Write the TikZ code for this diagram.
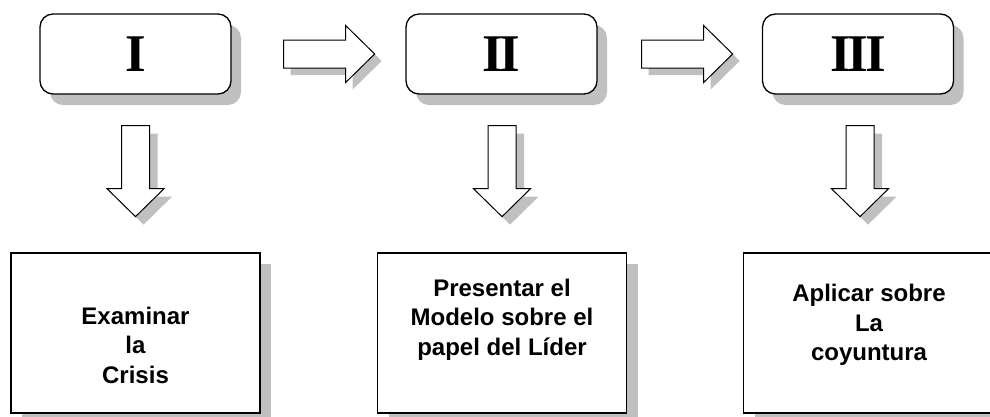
\documentclass[tikz,border=0pt]{standalone}
\usepackage{fontspec}
\setmainfont{Liberation Sans}
\newfontfamily\numfont[LetterSpace=-6]{Liberation Serif}
\usetikzlibrary{shadows,calc}
\definecolor{shadowgray}{HTML}{C0C0C0}
\newcommand{\rightshape}{(0,-14) -- (62,-14) -- (62,-28.5) -- (91,0) -- (62,28.5) -- (62,14) -- (0,14) -- cycle}
\newcommand{\downshape}{(-14,0) -- (-14,63) -- (-28.5,63) -- (0,91) -- (28.5,63) -- (14,63) -- (14,0) -- cycle}
\tikzset{
	stage/.style={draw, line width=1.3pt, rounded corners=13pt, fill=white,
		minimum width=191pt, minimum height=80pt,
		font=\numfont\bfseries\fontsize{53}{53}\selectfont,
		drop shadow={shadow xshift=10pt, shadow yshift=-11pt, fill=shadowgray, opacity=1}},
	task/.style={draw, line width=1.3pt, fill=white,
		minimum width=249pt, minimum height=160pt,
		drop shadow={shadow xshift=11pt, shadow yshift=-11pt, fill=shadowgray, opacity=1}},
	tasktext/.style={align=center, font=\bfseries\fontsize{24}{29.5}\selectfont},
	pics/rarrow/.style={code={
		\fill[shadowgray, shift={(7,7)}] \rightshape;
		\filldraw[line width=1pt, fill=white] \rightshape;
	}},
	pics/darrow/.style={code={
		\fill[shadowgray, shift={(8,8)}] \downshape;
		\filldraw[line width=1pt, fill=white] \downshape;
	}}
}
\begin{document}
\begin{tikzpicture}[x=1pt, y=-1pt]
		\useasboundingbox (0,0) rectangle (990,416);
		% stages
		\node[stage] (I) at (135.5,54) {I};
		\node[stage] (II) at (501.5,54) {II};
		\node[stage] (III) at (858,54) {III};
		% tasks
		\node[task] (b1) at (135.5,333) {};
		\node[task] (b2) at (502,333) {};
		\node[task] (b3) at (868,333) {};
		\node[tasktext] (t1) at ($(b1.center)+(0,12)$) {Examinar\\la\\Crisis};
		\node[tasktext] (t2) at ($(b2.center)+(0,-13.5)$) {Presentar el\\Modelo sobre el\\papel del Líder};
		\node[tasktext] (t3) at ($(b3.center)+(1,-8)$) {Aplicar sobre\\La\\coyuntura};
		% arrows
		\pic at ($(I.east)+(52,0)$) {rarrow};
		\pic at ($(II.east)+(44,0)$) {rarrow};
		\pic at ($(I.south)+(0,31)$) {darrow};
		\pic at ($(II.south)+(0.5,31)$) {darrow};
		\pic at ($(III.south)+(2,31)$) {darrow};
	%
	\end{tikzpicture}
\end{document}
